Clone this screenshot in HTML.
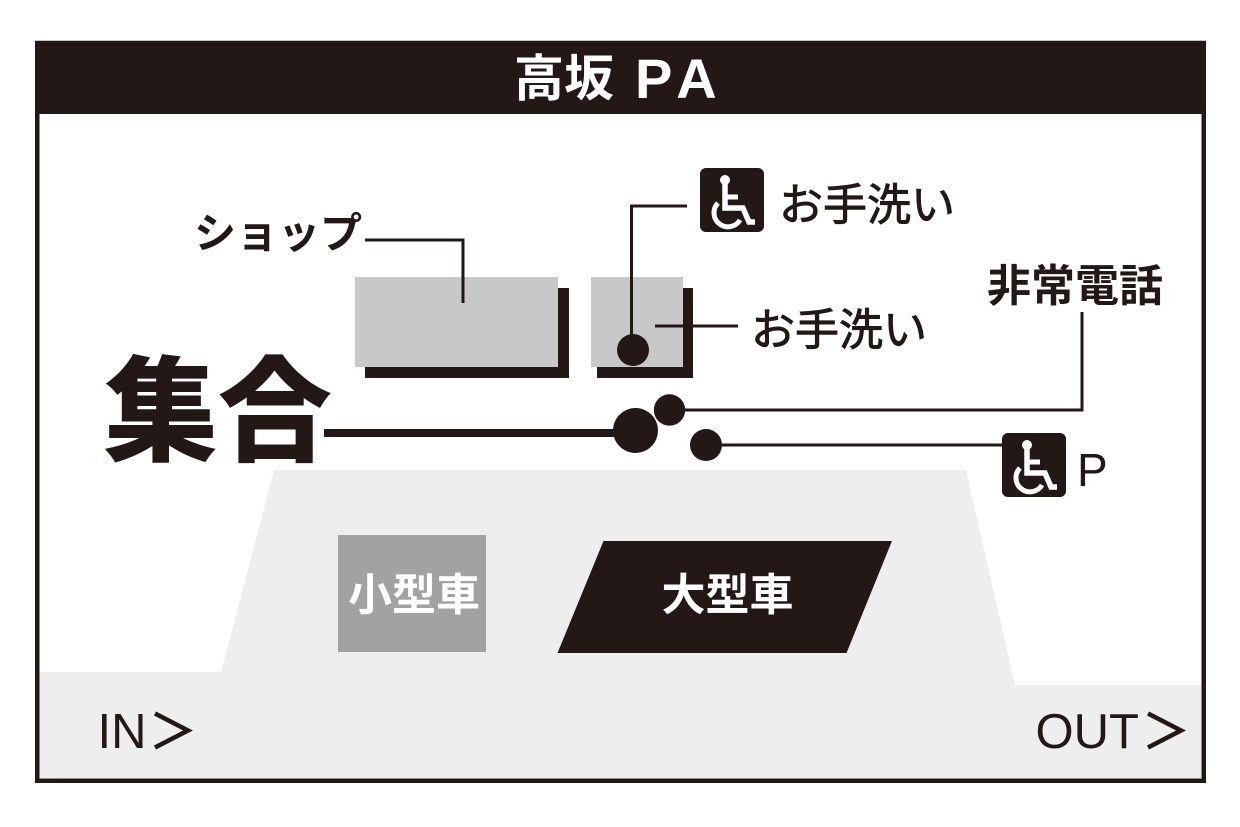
<!DOCTYPE html>
<html>
<head>
<meta charset="utf-8">
<style>
  html,body{margin:0;padding:0;background:#fff;}
  body{width:1240px;height:827px;overflow:hidden;}
  svg{display:block;}
  text{font-family:"Liberation Sans","Noto Sans CJK JP",sans-serif;}
</style>
</head>
<body>
<svg width="1240" height="827" viewBox="0 0 1240 827" xmlns="http://www.w3.org/2000/svg">
  <defs>
    <g id="wc">
      <rect x="0" y="0" width="64" height="64" rx="6" ry="6" fill="#231815"/>
      <circle cx="25" cy="12" r="5" fill="#fff"/>
      <path d="M25 16 V40 H43 L49 54 H55" stroke="#fff" stroke-width="5.5" fill="none" stroke-linejoin="miter"/>
      <path d="M25 29 H38" stroke="#fff" stroke-width="5" fill="none"/>
      <path d="M18 35 A14 14 0 1 0 40 52" stroke="#fff" stroke-width="5" fill="none"/>
    </g>
  </defs>

  <!-- frame -->
  <rect x="37.25" y="43" width="1166.5" height="737.75" fill="#fff" stroke="#231815" stroke-width="4.5"/>
  <!-- title bar -->
  <rect x="35" y="41" width="1171" height="73" fill="#231815"/>
  <text x="514" y="96" font-size="50" font-weight="bold" fill="#fff">高坂</text>
  <text x="635" y="98" font-size="56" font-weight="bold" fill="#fff" letter-spacing="8">PA</text>

  <!-- road area -->
  <polygon points="274,470 966,470 1015,685 1201,685 1201,778 39.5,778 39.5,672 221,672" fill="#eeeeee"/>

  <!-- shop building -->
  <rect x="365" y="288" width="204" height="90" fill="#231815"/>
  <rect x="355" y="277" width="203" height="90" fill="#c8c8c8"/>
  <!-- toilet building -->
  <rect x="597" y="288" width="96" height="90" fill="#231815"/>
  <rect x="591" y="277" width="92" height="90" fill="#c8c8c8"/>

  <!-- leader lines -->
  <polyline points="365,240 463,240 463,303" fill="none" stroke="#231815" stroke-width="3"/>
  <polyline points="687,206 631.5,206 631.5,350" fill="none" stroke="#231815" stroke-width="3"/>
  <line x1="655" y1="326" x2="738" y2="326" stroke="#231815" stroke-width="3"/>
  <polyline points="1082,312 1082,410 684,410" fill="none" stroke="#231815" stroke-width="3"/>
  <line x1="705" y1="445" x2="1003" y2="445" stroke="#231815" stroke-width="3"/>
  <line x1="324" y1="433" x2="636" y2="433" stroke="#231815" stroke-width="8"/>

  <!-- dots -->
  <circle cx="633" cy="350" r="16" fill="#231815"/>
  <circle cx="669.5" cy="410" r="15.7" fill="#231815"/>
  <circle cx="635.5" cy="430.5" r="22.5" fill="#231815"/>
  <circle cx="706" cy="445" r="16" fill="#231815"/>

  <!-- icons -->
  <use href="#wc" x="700" y="168"/>
  <use href="#wc" x="1002" y="433"/>

  <!-- labels -->
  <text x="194" y="248" font-size="42" font-weight="bold" fill="#231815">ショップ</text>
  <text x="779" y="220" font-size="44" font-weight="400" fill="#231815" stroke="#231815" stroke-width="0.9">お手洗い</text>
  <text x="751" y="345" font-size="44" font-weight="400" fill="#231815" stroke="#231815" stroke-width="0.9">お手洗い</text>
  <text x="987" y="301" font-size="44" font-weight="bold" fill="#231815">非常電話</text>
  <text x="104" y="452" font-size="114" font-weight="900" fill="#231815">集合</text>
  <text x="1077" y="486" font-size="46" fill="#231815">P</text>

  <!-- parking -->
  <rect x="338" y="535" width="148" height="117" fill="#a2a2a2"/>
  <text x="414" y="610" font-size="44" font-weight="bold" fill="#fff" text-anchor="middle">小型車</text>
  <polygon points="603.5,541 892,541 846.5,653 557.5,653" fill="#231815"/>
  <text x="727.5" y="610" font-size="44" font-weight="bold" fill="#fff" text-anchor="middle">大型車</text>

  <!-- IN / OUT -->
  <text x="97.5" y="748" font-size="49" fill="#231815">IN</text>
  <polyline points="155,713.5 188,730.5 155,747.5" fill="none" stroke="#231815" stroke-width="4.5" stroke-linejoin="miter"/>
  <text x="1035.5" y="748" font-size="49" fill="#231815">OUT</text>
  <polyline points="1148,713.5 1181,730.5 1148,747.5" fill="none" stroke="#231815" stroke-width="4.5" stroke-linejoin="miter"/>
</svg>
</body>
</html>
